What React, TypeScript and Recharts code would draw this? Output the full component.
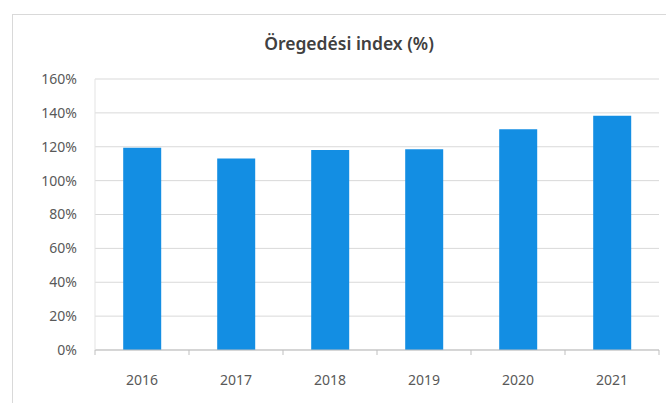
import { BarChart, Bar, XAxis, YAxis, CartesianGrid } from "recharts"

const years = ["2016", "2017", "2018", "2019", "2020", "2021"]
const agingIndex = [119.4, 113.1, 118.1, 118.5, 130.3, 138.3]
const yTicks = [0, 20, 40, 60, 80, 100, 120, 140, 160]

const data = years.map((year, i) => ({ year, value: agingIndex[i] }))

const font = "'Noto Sans', 'Open Sans', sans-serif"
const labelColor = "#595959"

// year label plus the small Excel-style marks between categories
const YearTick = (props: any) => {
    const { x, y, payload, index } = props
    const half = payload.offset ?? 0
    const last = index === years.length - 1
    return (
        <g>
            <line x1={x - half} x2={x - half} y1={y - 2} y2={y + 3} stroke="#bfbfbf" />
            {last && <line x1={x + half} x2={x + half} y1={y - 2} y2={y + 3} stroke="#bfbfbf" />}
            <text x={x} y={y + 33} textAnchor="middle" fontSize={14} fill={labelColor} fontFamily={font}>
                {payload.value}
            </text>
        </g>
    )
}

export default function App() {
    return (
        <div style={{ position: "absolute", left: 0, top: 0, width: 666, height: 403, background: "#fff", fontFamily: font }}>
            <div
                style={{
                    position: "absolute",
                    left: 12,
                    top: 14,
                    width: 660,
                    height: 400,
                    border: "1px solid #d9d9d9",
                    boxSizing: "border-box",
                }}
            />
            <div
                style={{
                    position: "absolute",
                    left: 249,
                    width: 200,
                    top: 31,
                    textAlign: "center",
                    fontSize: 17.5,
                    fontWeight: 600,
                    color: "#404040",
                    lineHeight: "24px",
                    whiteSpace: "nowrap",
                }}
            >
                Öregedési index (%)
            </div>
            <div style={{ position: "absolute", left: 0, top: 0 }}>
                <BarChart
                    width={666}
                    height={403}
                    data={data}
                    margin={{ top: 79, right: 7, left: 0, bottom: 23 }}
                    barCategoryGap="30%"
                >
                    <CartesianGrid vertical={false} stroke="#d9d9d9" />
                    <XAxis
                        dataKey="year"
                        height={30}
                        axisLine={{ stroke: "#bfbfbf" }}
                        tickLine={false}
                        tickSize={0}
                        tick={<YearTick />}
                    />
                    <YAxis
                        width={95}
                        domain={[0, 160]}
                        ticks={yTicks}
                        tickFormatter={(v) => `${v}%`}
                        axisLine={{ stroke: "#e3e3e3" }}
                        tickLine={false}
                        tickMargin={12}
                        tick={{ fontSize: 14, fill: labelColor, fontFamily: font }}
                    />
                    <Bar dataKey="value" fill="#138ee3" isAnimationActive={false} />
                </BarChart>
            </div>
        </div>
    )
}
